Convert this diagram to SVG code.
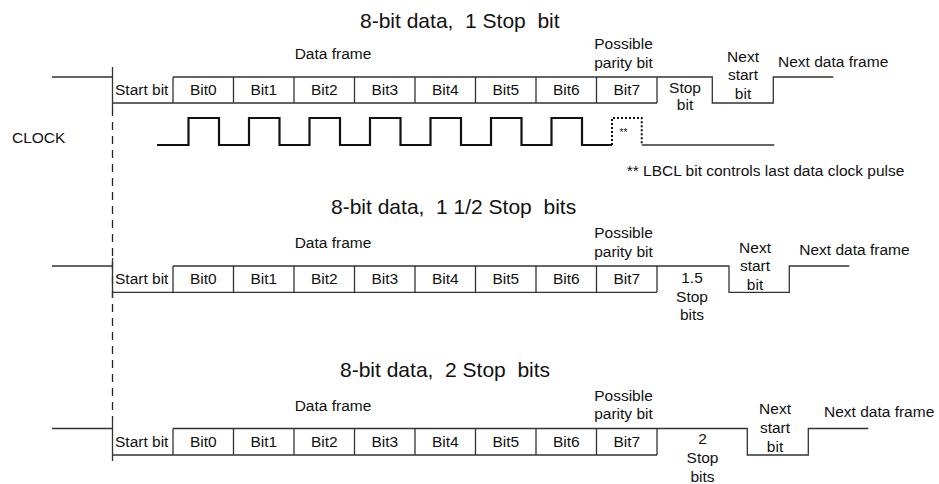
<svg xmlns="http://www.w3.org/2000/svg" width="939" height="484" viewBox="0 0 939 484">
<style>
text{font-family:"Liberation Sans",Arial,sans-serif;fill:#111;}
.t{font-size:21px;white-space:pre;}
.l{font-size:15.5px;}
.c{text-anchor:middle;}
.ln{fill:none;stroke:#333;stroke-width:1.3;}
.clk{fill:none;stroke:#111;stroke-width:2.2;}
.dot{fill:none;stroke:#111;stroke-width:2;stroke-dasharray:2,2;}
.dash{fill:none;stroke:#222;stroke-width:1.3;stroke-dasharray:8,6;}
</style>
<rect width="939" height="484" fill="#fff"/>
<g id="connectors">
  <path class="dash" d="M112.5,108 V420"/>
  <path class="ln" d="M112.5,67 V108 M112.5,258 V298 M112.5,420 V461"/>
</g>
<g id="row1">
  <text class="t" x="360" y="28" xml:space="preserve">8-bit data,  1 Stop  bit</text>
  <text class="l c" x="333" y="59">Data frame</text>
  <path class="ln" d="M52,77 H112.5 M112.5,103 H657 M173,77 H712.3 V103 H773.3 V77 H833.3"/>
  <path class="ln" d="M173,77V103 M233.5,77V103 M294,77V103 M354.5,77V103 M415,77V103 M475.5,77V103 M536,77V103 M596.5,77V103 M657,77V103"/>
  <text class="l" x="115" y="94.5">Start bit</text>
  <text class="l c" x="203.3" y="94.5">Bit0</text>
  <text class="l c" x="263.8" y="94.5">Bit1</text>
  <text class="l c" x="324.3" y="94.5">Bit2</text>
  <text class="l c" x="384.8" y="94.5">Bit3</text>
  <text class="l c" x="445.3" y="94.5">Bit4</text>
  <text class="l c" x="505.8" y="94.5">Bit5</text>
  <text class="l c" x="566.3" y="94.5">Bit6</text>
  <text class="l c" x="626.8" y="94.5">Bit7</text>
  <text class="l c" x="623.5" y="49">Possible</text>
  <text class="l c" x="623.5" y="68">parity bit</text>
  <text class="l c" x="685" y="92.5">Stop</text>
  <text class="l c" x="685" y="110">bit</text>
  <text class="l c" x="743" y="61.5">Next</text>
  <text class="l c" x="743" y="80">start</text>
  <text class="l c" x="743" y="99">bit</text>
  <text class="l" x="778" y="66.5">Next data frame</text>
</g>
<g id="clock">
  <text class="l" x="12" y="142.5">CLOCK</text>
  <path class="clk" d="M157,145 H188.5 V118 H219 V145 H249 V118 H279.5 V145 H309.5 V118 H340 V145 H370 V118 H400.5 V145 H430.5 V118 H461 V145 H491 V118 H521.5 V145 H551.5 V118 H582 V145 H612"/>
  <path class="dot" d="M612,145 V118 H641.7 V145"/>
  <path class="ln" d="M641.7,145 H774.3"/>
  <text x="619.5" y="136" style="font-size:10px">**</text>
  <text class="l" x="626.7" y="176">** LBCL bit controls last data clock pulse</text>
</g>
<g id="row2">
  <text class="t" x="331" y="214" xml:space="preserve">8-bit data,  1 1/2 Stop  bits</text>
  <text class="l c" x="333" y="248">Data frame</text>
  <path class="ln" d="M52,266 H112.5 M112.5,292.3 H657 M173,266 H729 V292.3 H789.3 V266 H849.3"/>
  <path class="ln" d="M173,266V292.3 M233.5,266V292.3 M294,266V292.3 M354.5,266V292.3 M415,266V292.3 M475.5,266V292.3 M536,266V292.3 M596.5,266V292.3 M657,266V292.3"/>
  <text class="l" x="115" y="284">Start bit</text>
  <text class="l c" x="203.3" y="284">Bit0</text>
  <text class="l c" x="263.8" y="284">Bit1</text>
  <text class="l c" x="324.3" y="284">Bit2</text>
  <text class="l c" x="384.8" y="284">Bit3</text>
  <text class="l c" x="445.3" y="284">Bit4</text>
  <text class="l c" x="505.8" y="284">Bit5</text>
  <text class="l c" x="566.3" y="284">Bit6</text>
  <text class="l c" x="626.8" y="284">Bit7</text>
  <text class="l c" x="623.5" y="238">Possible</text>
  <text class="l c" x="623.5" y="256.5">parity bit</text>
  <text class="l c" x="692" y="283">1.5</text>
  <text class="l c" x="692" y="301.5">Stop</text>
  <text class="l c" x="692" y="320">bits</text>
  <text class="l c" x="755" y="252.5">Next</text>
  <text class="l c" x="755" y="271">start</text>
  <text class="l c" x="755" y="289.5">bit</text>
  <text class="l" x="799.3" y="255">Next data frame</text>
</g>
<g id="row3">
  <text class="t" x="340" y="377" xml:space="preserve">8-bit data,  2 Stop  bits</text>
  <text class="l c" x="333" y="411">Data frame</text>
  <path class="ln" d="M52,428.5 H112.5 M112.5,455 H657 M173,428.5 H747.3 V455 H808.3 V428.5 H868.3"/>
  <path class="ln" d="M173,428.5V455 M233.5,428.5V455 M294,428.5V455 M354.5,428.5V455 M415,428.5V455 M475.5,428.5V455 M536,428.5V455 M596.5,428.5V455 M657,428.5V455"/>
  <text class="l" x="115" y="446.5">Start bit</text>
  <text class="l c" x="203.3" y="446.5">Bit0</text>
  <text class="l c" x="263.8" y="446.5">Bit1</text>
  <text class="l c" x="324.3" y="446.5">Bit2</text>
  <text class="l c" x="384.8" y="446.5">Bit3</text>
  <text class="l c" x="445.3" y="446.5">Bit4</text>
  <text class="l c" x="505.8" y="446.5">Bit5</text>
  <text class="l c" x="566.3" y="446.5">Bit6</text>
  <text class="l c" x="626.8" y="446.5">Bit7</text>
  <text class="l c" x="623.5" y="400.5">Possible</text>
  <text class="l c" x="623.5" y="418.5">parity bit</text>
  <text class="l c" x="702.5" y="443.5">2</text>
  <text class="l c" x="702.5" y="463">Stop</text>
  <text class="l c" x="702.5" y="481.5">bits</text>
  <text class="l c" x="775" y="413.5">Next</text>
  <text class="l c" x="775" y="432.5">start</text>
  <text class="l c" x="775" y="451.5">bit</text>
  <text class="l" x="824" y="417">Next data frame</text>
</g>
</svg>
